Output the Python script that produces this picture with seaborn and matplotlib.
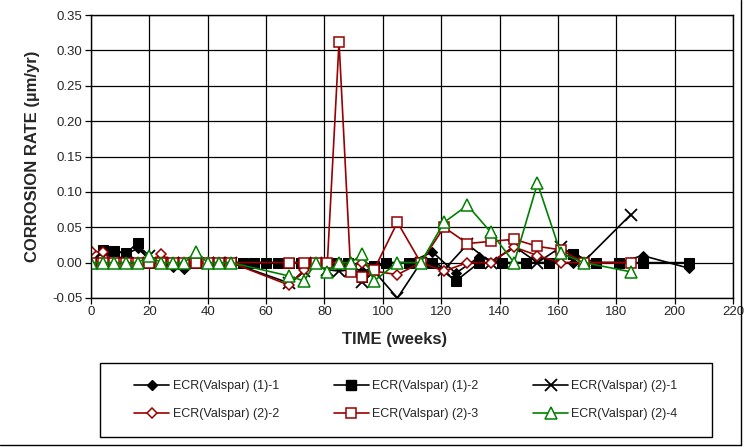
"""
Corrosion rate vs time for ECR (Valspar) specimens
"""

import matplotlib
matplotlib.use("Agg")
import matplotlib.pyplot as plt
from matplotlib.lines import Line2D
import seaborn as sns
import pandas as pd

# time points (weeks)
weeks_1 = [0, 4, 8, 12, 16, 20, 24, 28, 32, 36, 40, 44, 48, 52, 56, 60, 64, 68, 72, 76, 80,
           84, 88, 93, 97, 101, 109, 117, 125, 133, 141, 149, 157, 165, 173, 181, 189, 205]
weeks_2 = [0, 4, 8, 12, 16, 20, 24, 28, 32, 36, 40, 44, 48,
           68, 73, 77, 81, 85, 89, 93, 97, 105, 113, 121, 129, 137, 145, 153, 161, 169, 185]

# corrosion rates (um/yr)
ecr_1_1 = [0, 0.015, 0.017, 0.012, 0.02, 0.005, 0, -0.006, -0.009, 0, 0, 0, 0, 0, 0, 0, 0, 0, 0, 0, 0,
           0, -0.005, -0.012, -0.008, 0, 0, 0.015, -0.015, 0.008, 0, 0, 0, 0, 0, 0, 0.01, -0.008]
ecr_1_2 = [0, 0.018, 0.017, 0.013, 0.028, 0, 0, 0, 0, 0, 0, 0, 0, 0, 0, 0, 0, 0, 0, 0, 0,
           0, 0, -0.02, -0.005, 0, 0, 0, -0.026, 0, 0, 0, 0, 0.012, 0, 0, 0, 0]
ecr_2_1 = [0, 0, 0, 0, 0, 0.01, 0, 0, 0, 0, 0, 0, 0,
           -0.029, -0.012, 0, -0.01, -0.012, -0.01, -0.028, -0.012, -0.05, 0, -0.01, 0.026,
           0, 0.023, 0, 0.022, 0.002, 0.068]
ecr_2_2 = [0.016, 0.015, 0, 0, 0, 0, 0.012, 0, 0, 0, 0, 0, 0,
           -0.032, -0.01, 0, 0, 0, -0.005, 0, -0.012, -0.017, 0, -0.012, 0,
           0, 0.022, 0.01, 0, 0, 0]
ecr_2_3 = [0, 0, 0, 0, 0, 0, 0, 0, 0, 0, 0, 0, 0,
           0, 0, 0, 0, 0.312, -0.013, -0.02, -0.01, 0.057, 0, 0.05, 0.027,
           0.03, 0.033, 0.023, 0.018, 0, 0]
ecr_2_4 = [0, 0, 0, 0, 0, 0.009, 0, 0, 0, 0.015, 0, 0, 0,
           -0.019, -0.026, 0, -0.013, 0, 0, 0.012, -0.026, 0, 0, 0.057, 0.081,
           0.043, 0, 0.112, 0.013, 0, -0.013]

labels = ["ECR(Valspar) (1)-1", "ECR(Valspar) (1)-2", "ECR(Valspar) (2)-1",
          "ECR(Valspar) (2)-2", "ECR(Valspar) (2)-3", "ECR(Valspar) (2)-4"]

DARKRED = "#990000"
GREEN = "#008000"

sns.set_style("white")
plt.rcParams["font.family"] = ["Liberation Sans", "DejaVu Sans"]

fig = plt.figure(figsize=(7.44, 4.47), dpi=100)
ax = fig.add_axes([91 / 744, 1 - 298 / 447, 642 / 744, 283 / 447])

series = [
    (weeks_1, ecr_1_1, dict(color="black", marker="D", markersize=5.5, mfc="black", mec="black")),
    (weeks_1, ecr_1_2, dict(color="black", marker="s", markersize=6.5, mfc="black", mec="black")),
    (weeks_2, ecr_2_1, dict(color="black", marker="x", markersize=8, mew=1.3, mec="black")),
    (weeks_2, ecr_2_2, dict(color=DARKRED, marker="D", markersize=5, mfc="white", mec=DARKRED, mew=1.1)),
    (weeks_2, ecr_2_3, dict(color=DARKRED, marker="s", markersize=7, mfc="white", mec=DARKRED, mew=1.1)),
    (weeks_2, ecr_2_4, dict(color=GREEN, marker="^", markersize=8, mfc="white", mec=GREEN, mew=1.1)),
]

for (x, y, style), lab in zip(series, labels):
    df = pd.DataFrame({"week": x, "rate": y})
    sns.lineplot(data=df, x="week", y="rate", ax=ax, linewidth=1.2,
                 sort=False, legend=False, **style)

ax.set_xlim(0, 220)
ax.set_ylim(-0.05, 0.35)
ax.set_xticks(range(0, 221, 20))
ax.set_yticks([-0.05, 0, 0.05, 0.10, 0.15, 0.20, 0.25, 0.30, 0.35])
ax.set_yticklabels(["-0.05", "0.00", "0.05", "0.10", "0.15", "0.20", "0.25", "0.30", "0.35"])
ax.grid(True, color="black", linewidth=0.9)
ax.set_axisbelow(True)
for sp in ax.spines.values():
    sp.set_color("black")
    sp.set_linewidth(1.0)
ax.tick_params(axis="both", direction="out", length=4, width=0.9, color="black",
               labelsize=9.5, pad=2, bottom=True, left=True)

ax.set_xlabel("TIME (weeks)", fontsize=12, fontweight="bold")
ax.set_ylabel("CORROSION RATE (µm/yr)", fontsize=12, fontweight="bold")
ax.xaxis.set_label_coords((395 - 91) / 642, -0.12)
ax.yaxis.set_label_coords(-0.08, 0.5)

# legend: row-wise order like the original, frame drawn separately
handles = []
for (x, y, style), lab in zip(series, labels):
    handles.append(Line2D([], [], linewidth=1.2, label=lab, **style))
order = [0, 3, 1, 4, 2, 5]
fig.legend([handles[i] for i in order], [labels[i] for i in order], ncol=3, loc="center",
           bbox_to_anchor=(406 / 744, 1 - 400 / 447), fontsize=9, frameon=False,
           handlelength=2.8, handletextpad=0.25, labelspacing=1.3, borderpad=0,
           columnspacing=4.4)
fig.add_artist(plt.Rectangle((100 / 744, 1 - 437 / 447), 612 / 744, 74 / 447,
                             transform=fig.transFigure, fill=False,
                             edgecolor="black", linewidth=1.0))
# chart area border (right / bottom edges visible in the original)
fig.add_artist(Line2D([741 / 744, 741 / 744], [2 / 447, 1], transform=fig.transFigure,
                      color="black", linewidth=1.0))
fig.add_artist(Line2D([0, 741 / 744], [2 / 447, 2 / 447], transform=fig.transFigure,
                      color="black", linewidth=1.0))

fig.savefig("out.png", dpi=100)
